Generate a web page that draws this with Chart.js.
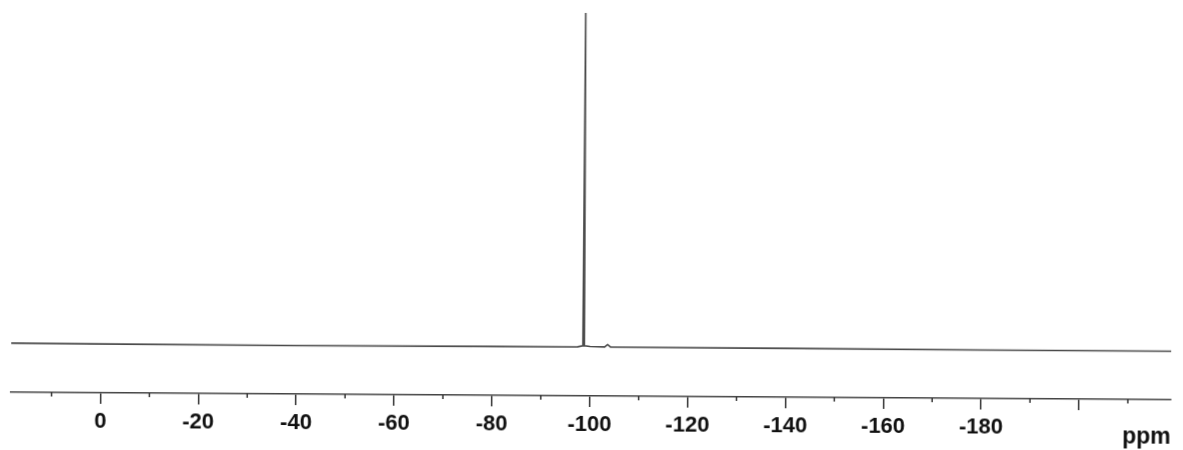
<!DOCTYPE html>
<html>
<head>
<meta charset="utf-8">
<title>ppm spectrum</title>
<script src="https://cdn.jsdelivr.net/npm/chart.js@4"></script>
<style>
  html, body { margin: 0; padding: 0; background: #fff; overflow: hidden; }
  /* the scan is a little skewed, whole plot tilts slightly */
  #wrap { width: 1183px; height: 450px; transform: rotate(0.37deg); }
</style>
</head>
<body>
<div id="wrap"><canvas id="myChart"></canvas></div>
<script>
// chemical shift (ppm) and intensity
var shift = [18.3, 0, -40, -80, -97.5, -98.55, -98.7, -98.85, -100, -103.0, -103.6, -104.2, -140, -180, -218.8];
var intensity = [0.002, 0.001, 0, 0.001, 0.002, 0.005, 1.0, 0.005, 0.003, 0.002, 0.009, 0.002, 0.001, 0, 0];

var tickLabels = [0, -20, -40, -60, -80, -100, -120, -140, -160, -180];
var axisMin = -218.8;
var axisMax = 18.3;
var unitLabel = 'ppm';

var points = [];
for (var i = 0; i < shift.length; i++) {
    points.push({ x: shift[i], y: intensity[i] });
}

Chart.defaults.font.family = "'Liberation Sans', Arial, sans-serif";

// shorter marks for the 10 ppm ticks, plus the unit at the right end
var axisExtras = {
    id: 'axisExtras',
    afterDraw: function (chart) {
        var sx = chart.scales.x;
        var ctx = chart.ctx;
        var y0 = chart.chartArea.bottom;
        ctx.save();
        ctx.strokeStyle = '#333';
        ctx.lineWidth = 1.5;
        sx.ticks.forEach(function (t) {
            if (t.value % 20 !== 0) {
                var px = sx.getPixelForValue(t.value);
                ctx.beginPath();
                ctx.moveTo(px, y0);
                ctx.lineTo(px, y0 + 4);
                ctx.stroke();
            }
        });
        ctx.fillStyle = '#111';
        ctx.font = "bold 23px 'Liberation Sans', Arial, sans-serif";
        ctx.textAlign = 'right';
        ctx.textBaseline = 'alphabetic';
        ctx.fillText(unitLabel, sx.right, y0 + 44);
        ctx.restore();
    }
};

var ctx = document.getElementById('myChart');

var myChart = new Chart(ctx, {
    type: 'line',
    data: {
        datasets: [
            {
                data: points,
                borderColor: '#4a4a4a',
                borderWidth: 1.6,
                pointRadius: 0,
                tension: 0,
                fill: false
            }
        ]
    },
    options: {
        responsive: true,
        maintainAspectRatio: false,
        animation: false,
        layout: { padding: { left: 12, right: 11, top: 13, bottom: 7 } },
        plugins: {
            legend: { display: false },
            tooltip: { enabled: false }
        },
        scales: {
            x: {
                type: 'linear',
                reverse: true,
                min: axisMin,
                max: axisMax,
                border: { display: true, color: '#444', width: 1.5 },
                grid: {
                    display: true,
                    drawOnChartArea: false,
                    drawTicks: true,
                    tickLength: 11,
                    lineWidth: 1.5,
                    tickColor: function (c) {
                        return c.tick && c.tick.value % 20 === 0 ? '#333' : 'rgba(0,0,0,0)';
                    }
                },
                ticks: {
                    stepSize: 10,
                    includeBounds: false,
                    autoSkip: false,
                    maxRotation: 0,
                    padding: 7,
                    color: '#111',
                    font: { size: 22, weight: 'bold', lineHeight: 1 },
                    callback: function (v) {
                        return tickLabels.indexOf(v) >= 0 ? String(v) : '';
                    }
                }
            },
            y: {
                display: false,
                min: -0.145,
                max: 1
            }
        }
    },
    plugins: [axisExtras]
});
</script>
</body>
</html>
